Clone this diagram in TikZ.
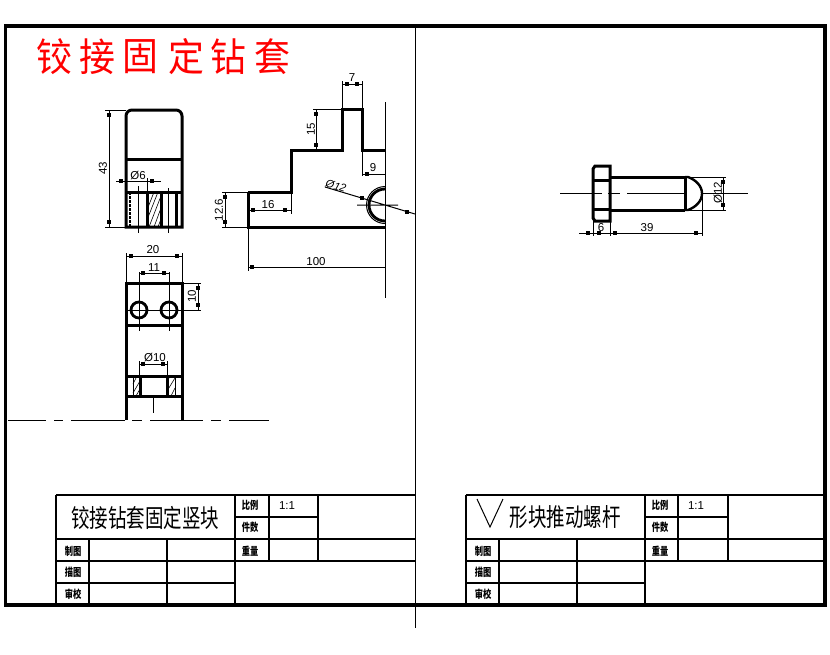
\documentclass[tikz,border=0pt]{standalone}
\usepackage{fontspec}
\setmainfont{Liberation Sans}
\newfontfamily\cjk{Noto Sans CJK SC}
\usetikzlibrary{patterns}

\begin{document}
\begin{tikzpicture} [x=1pt, y=-1pt,
                    frame/.style={line width=3.4pt},
                    cell/.style={line width=1.8pt},
                    solid line/.style={line width=3pt},
                    thin line/.style={line width=1pt},
                    hatch/.style={line width=0.6pt},
                    dimtext/.style={font=\fontsize{11.5}{11.5}\selectfont, inner sep=0pt},
                    dimrot/.style={dimtext, rotate=90},
                    small/.style={font=\cjk\bfseries\fontsize{11}{11}\selectfont, inner sep=0pt, xscale=.75},
                    big/.style={font=\cjk\fontsize{25}{25}\selectfont, inner sep=0pt, xscale=.74}]

\useasboundingbox (0,0) rectangle (830,654);
\fill[white] (0,0) rectangle (830,654);

% frame
\draw[frame] (5.5,26) rectangle (825,605);
\draw[line width=1pt] (415,26) -- (415,628);

% red title
\foreach \ch/\px in {铰/54, 接/97, 固/140, 定/186, 钻/228, 套/272}
  \node[red, font=\cjk\fontsize{39}{39}\selectfont, inner sep=0pt, xscale=.92] (t\px) at (\px,57) {\ch};

% title blocks
\foreach \off/\a/\b/\c/\d/\e/\f/\r in {0/56/89/167/235/269/318/415, 1/466/499/577/645/678/728/825} {
  \draw[cell] (\a,495) -- (\r,495);
  \draw[cell] (\d,517) -- (\f,517);
  \draw[cell] (\a,539) -- (\r,539);
  \draw[cell] (\a,561) -- (\r,561);
  \draw[cell] (\a,583) -- (\d,583);
  \draw[cell] (\a,495) -- (\a,605);
  \draw[cell] (\d,495) -- (\d,605);
  \draw[cell] (\e,495) -- (\e,561);
  \draw[cell] (\f,495) -- (\f,561);
  \draw[cell] (\b,539) -- (\b,605);
  \draw[cell] (\c,539) -- (\c,605);
  \node[small] (bili\off) at (\d+15,505) {比例};
  \node[small] (jian\off) at (\d+15,527) {件数};
  \node[small] (zhong\off) at (\d+15,551) {重量};
  \node[dimtext] (one\off) at (\e+18,506) {1:1};
  \node[small] (zhi\off) at (\a+17,551) {制图};
  \node[small] (miao\off) at (\a+17,572) {描图};
  \node[small] (shen\off) at (\a+17,594) {审校};
}
\node[big] (name1) at (145,518) {铰接钻套固定竖块};
\node[big] (name2) at (565,517) {形块推动螺杆};
\draw[thin line] (477,499) -- (490,527) -- (503,499);

% front view
\draw[solid line] (126,227) -- (126,116) arc[start angle=180, end angle=270, radius=6]
      -- (176,110) arc[start angle=270, end angle=360, radius=6] -- (182,227) -- cycle;
\draw[solid line] (126,159) -- (182,159) (126,192) -- (182,192);
\foreach \px in {147,161,176}
  \draw[solid line] (\px,192) -- (\px,227);
\draw[line width=1.4pt, dash pattern=on 3pt off 1pt] (130,192) -- (130,227);
\draw[hatch] (147,210) -- (154,192) (147,220) -- (158,192) (149,227) -- (161,196) (154,227) -- (161,208) (158,227) -- (161,219);
\draw[thin line] (138,186) -- (138,233) (168,188) -- (168,233);
% dimensions of the front view
\draw[thin line] (105,110) -- (126,110) (105,227) -- (126,227) (109,110) -- (109,227);
\node[dimrot] (d43) at (103,168) {43};
\draw[thin line] (116,181) -- (161,181) (125,172) -- (125,192) (147,178) -- (147,192);
\node[dimtext] (d6) at (138,176) {Ø6};

% top view
\draw[solid line] (126,420) -- (126,283) -- (182,283) -- (182,420);
\draw[solid line] (126,325) -- (182,325) (126,376) -- (182,376) (126,396) -- (182,396);
\draw[line width=2.8pt] (139,310) circle[radius=8] (169,310) circle[radius=8];
\draw[thin line] (126,310) -- (201,310) (139,272) -- (139,331) (169,272) -- (169,331);
\draw[solid line] (140,376) -- (140,396) (167,376) -- (167,396);
\draw[hatch] (133,376) -- (133,396) (175,376) -- (175,396);
\draw[hatch] (133,393) -- (140,381) (133,384) -- (137,376) (136,396) -- (140,389);
\draw[hatch] (167,391) -- (175,378) (167,382) -- (170,376) (171,396) -- (175,388);
\draw[thin line] (153,396) -- (153,413);
\draw[thin line] (8,420) -- (46,420) (54,420) -- (63,420) (71,420) -- (125,420)
      (132,420) -- (142,420) (150,420) -- (203,420) (211,420) -- (221,420) (229,420) -- (269,420);
% dimensions of the top view
\draw[thin line] (126,253) -- (126,283) (182,253) -- (182,283) (126,256) -- (182,256);
\node[dimtext] (d20) at (153,250) {20};
\draw[thin line] (139,273) -- (169,273);
\node[dimtext] (d11) at (154,268) {11};
\draw[thin line] (182,283) -- (201,283) (198,283) -- (198,310);
\node[dimrot] (d10) at (192,296) {10};
\draw[thin line] (139,361) -- (139,376) (167,361) -- (167,376) (139,364) -- (167,364);
\node[dimtext] (d10b) at (155,358) {Ø10};

% side view
\draw[solid line] (248,192) -- (291,192) -- (291,150) -- (342,150) -- (342,109) -- (362,109)
      -- (362,150) -- (385,150);
\draw[solid line] (248,192) -- (248,227) -- (385,227);
\draw[thin line] (385,102) -- (385,298);
\draw[line width=2.8pt] (385,189) arc[start angle=270, end angle=90, radius=16];
\draw[thin line] (385,186.5) arc[start angle=270, end angle=90, radius=18.5];
\draw[thin line] (357,205) -- (398,205) (325,187) -- (415,214);
\node[dimtext, rotate=-17, font=\itshape\fontsize{11}{11}\selectfont] (d12) at (336,186) {Ø12};
% dimensions of the side view
\draw[thin line] (342,81) -- (342,109) (362,81) -- (362,109) (342,84) -- (362,84);
\node[dimtext] (d7) at (352,78) {7};
\draw[thin line] (313,109) -- (342,109) (316,109) -- (316,150);
\node[dimrot] (d15) at (311,129) {15};
\draw[thin line] (362,150) -- (362,176) (362,174) -- (385,174);
\node[dimtext] (d9) at (373,168) {9};
\draw[thin line] (291,192) -- (291,214) (248,210) -- (291,210);
\node[dimtext] (d16) at (268,205) {16};
\draw[thin line] (222,192) -- (248,192) (222,227) -- (248,227) (225,192) -- (225,227);
\node[dimrot] (d126) at (219,210) {12.6};
\draw[thin line] (248,227) -- (248,271) (248,267) -- (385,267);
\node[dimtext] (d100) at (316,262) {100};

% bolt
\draw[solid line] (595,166) -- (610,166) -- (610,221) -- (595,221)
      -- (593,218) -- (593,169) -- cycle;
\draw[solid line] (593,180) -- (610,180) (593,209) -- (610,209);
\draw[solid line] (610,177) -- (685,177) (610,210) -- (685,210) (685,177) -- (685,210);
\draw[line width=2.4pt] (685,177) -- (688,177) .. controls (696,180) and (702,186) .. (702,193.5)
      .. controls (702,201) and (696,207) .. (688,210) -- (685,210);
\draw[thin line] (560,193) -- (602,193) (608,193) -- (620,193) (627,193) -- (685,193) (702,193) -- (748,193);
% dimensions of the bolt
\draw[thin line] (685,177) -- (726,177) (685,210) -- (726,210) (723,177) -- (723,210);
\node[dimrot] (d12b) at (718,193) {Ø12};
\draw[thin line] (593,221) -- (593,236) (610,221) -- (610,236) (702,193) -- (702,236);
\draw[thin line] (579,233) -- (702,233);
\node[dimtext] (d6b) at (601,228) {6};
\node[dimtext] (d39) at (647,228) {39};

% arrow marks
\foreach \px/\py in {109/115, 109/222, 121/181, 152/181, 131/256, 177/256, 143/273, 164/273,
                     198/288, 198/305, 143/364, 163/364, 347/84, 357/84, 316/114, 316/145, 367/174,
                     253/210, 285/210, 225/197, 225/222, 252/267, 362/198, 407/212,
                     723/182, 723/205, 588/233, 599/233, 615/233, 696/233}
  \fill (\px-1.8,\py-1.8) rectangle (\px+1.8,\py+1.8);

\end{tikzpicture}
\end{document}
